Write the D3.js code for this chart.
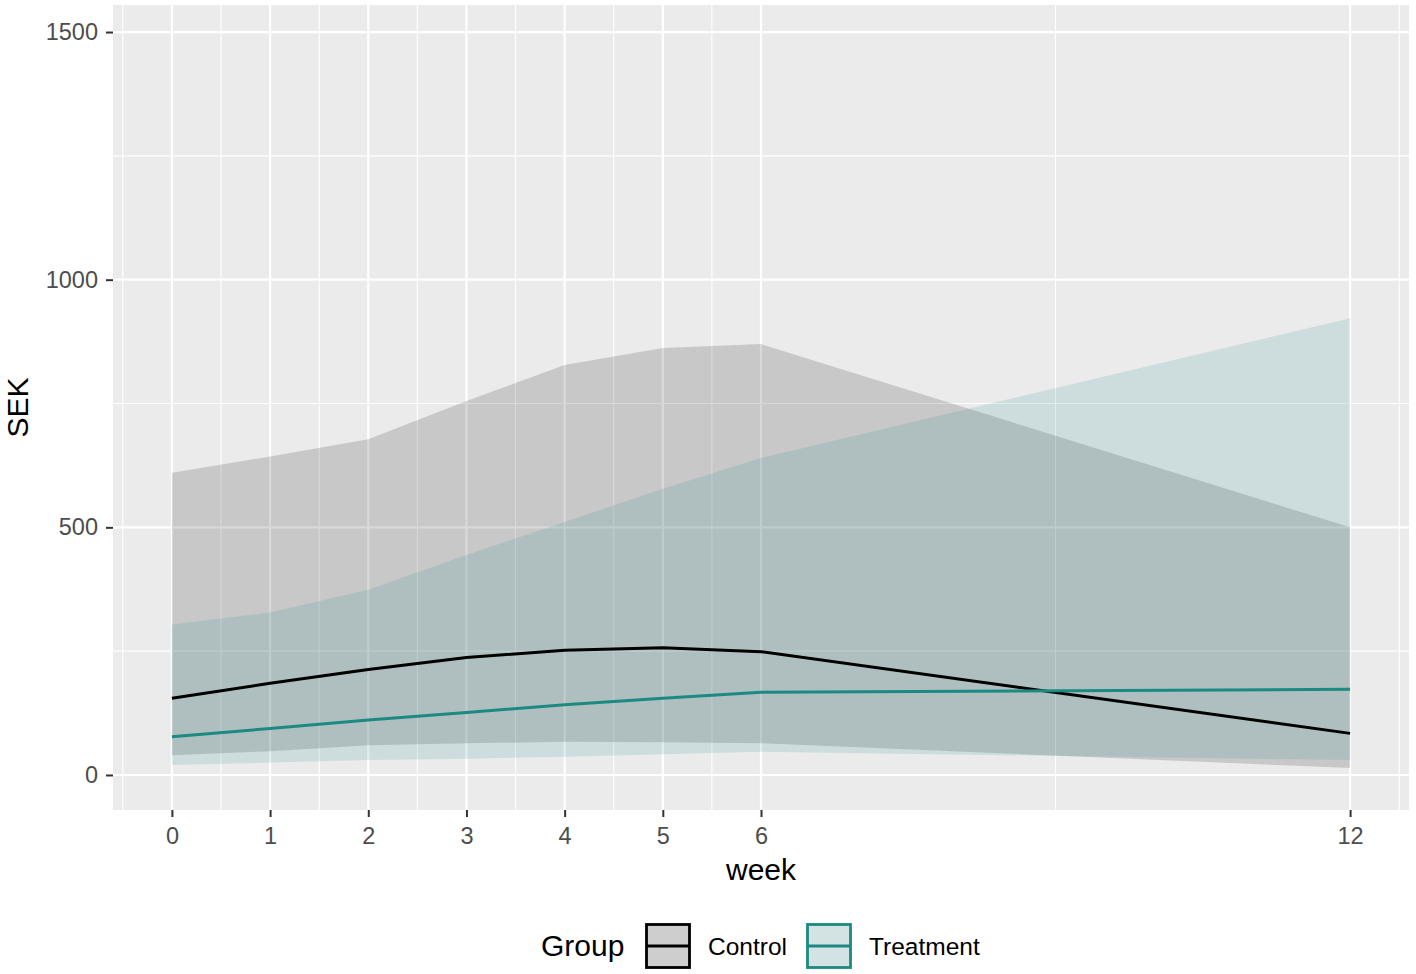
<!DOCTYPE html>
<html>
<head>
<meta charset="utf-8">
<script src="https://cdn.jsdelivr.net/npm/d3@7"></script>
<style>
  body { margin: 0; background: #fff; }
  svg { display: block; font-family: "Liberation Sans", Arial, Helvetica, sans-serif; }
</style>
</head>
<body>
<svg id="chart" width="1416" height="974"></svg>
<script>
const weeks = [0, 1, 2, 3, 4, 5, 6, 12];

const controlMean  = [155, 185, 213, 237, 252, 257, 249, 84];
const controlLower = [40, 48, 60, 64, 67, 66, 64, 14];
const controlUpper = [610, 643, 678, 755, 828, 862, 870, 500];

const treatmentMean  = [77, 94, 111, 126, 142, 155, 167, 173];
const treatmentLower = [20, 25, 30, 33, 37, 42, 47, 30];
const treatmentUpper = [304, 328, 374, 444, 511, 578, 640, 922];

const groups = ['Control', 'Treatment'];
const xTicks = [0, 1, 2, 3, 4, 5, 6, 12];
const xMinor = [-0.5, 0.5, 1.5, 2.5, 3.5, 4.5, 5.5, 9, 12.5];
const yTicks = [0, 500, 1000, 1500];
const yMinor = [250, 750, 1250];

const lineColors = { Control: '#000000', Treatment: '#1C8A82' };
const fillColors = { Control: '#000000', Treatment: '#21908C' };
const fillAlpha = 0.15;

const panel = { left: 113, right: 1409, top: 5, bottom: 810 };

const svg = d3.select('#chart');

const x = d3.scaleLinear()
    .domain([-0.6, 12.6])
    .range([panel.left, panel.right]);
const y = d3.scaleLinear()
    .domain([-70.7, 1554.6])
    .range([panel.bottom, panel.top]);

// panel background + grid
svg.append('rect')
    .attr('x', panel.left)
    .attr('y', panel.top)
    .attr('width', panel.right - panel.left)
    .attr('height', panel.bottom - panel.top)
    .attr('fill', '#EBEBEB');

const grid = svg.append('g').attr('class', 'grid');
grid.selectAll('.ymin').data(yMinor).enter().append('line')
    .attr('x1', panel.left).attr('x2', panel.right)
    .attr('y1', d => y(d)).attr('y2', d => y(d))
    .attr('stroke', '#fff').attr('stroke-width', 1.1);
grid.selectAll('.xmin').data(xMinor).enter().append('line')
    .attr('y1', panel.top).attr('y2', panel.bottom)
    .attr('x1', d => x(d)).attr('x2', d => x(d))
    .attr('stroke', '#fff').attr('stroke-width', 1.1);
grid.selectAll('.ymaj').data(yTicks).enter().append('line')
    .attr('x1', panel.left).attr('x2', panel.right)
    .attr('y1', d => y(d)).attr('y2', d => y(d))
    .attr('stroke', '#fff').attr('stroke-width', 2.2);
grid.selectAll('.xmaj').data(xTicks).enter().append('line')
    .attr('y1', panel.top).attr('y2', panel.bottom)
    .attr('x1', d => x(d)).attr('x2', d => x(d))
    .attr('stroke', '#fff').attr('stroke-width', 2.2);

const series = [
    { name: 'Control', mean: controlMean, lo: controlLower, hi: controlUpper },
    { name: 'Treatment', mean: treatmentMean, lo: treatmentLower, hi: treatmentUpper }
].map(s => ({
    name: s.name,
    points: weeks.map((w, i) => ({ week: w, mean: s.mean[i], lo: s.lo[i], hi: s.hi[i] }))
}));

const area = d3.area()
    .x(d => x(d.week))
    .y0(d => y(d.lo))
    .y1(d => y(d.hi));
const line = d3.line()
    .x(d => x(d.week))
    .y(d => y(d.mean));

// ribbons
svg.append('g')
    .selectAll('path')
    .data(series)
    .enter()
    .append('path')
    .attr('d', d => area(d.points))
    .attr('fill', d => fillColors[d.name])
    .attr('fill-opacity', fillAlpha);

// lines
svg.append('g')
    .selectAll('path')
    .data(series)
    .enter()
    .append('path')
    .attr('d', d => line(d.points))
    .attr('fill', 'none')
    .attr('stroke', d => lineColors[d.name])
    .attr('stroke-width', 3);

// axes
const xAxis = d3.axisBottom(x).tickValues(xTicks).tickSize(7).tickPadding(10.5);
svg.append('g')
    .attr('class', 'axis x-axis')
    .attr('transform', `translate(0, ${panel.bottom})`)
    .call(xAxis);

const yAxis = d3.axisLeft(y).tickValues(yTicks).tickFormat(d3.format('d')).tickSize(7).tickPadding(8);
svg.append('g')
    .attr('class', 'axis y-axis')
    .attr('transform', `translate(${panel.left}, 0)`)
    .call(yAxis);

svg.selectAll('.axis .domain').remove();
svg.selectAll('.axis .tick line').attr('stroke', '#333333').attr('stroke-width', 2);
svg.selectAll('.axis .tick text')
    .attr('fill', '#4D4D4D')
    .style('font-size', '23.5px')
    .style('font-family', '"Liberation Sans", Arial, sans-serif');

// axis titles
svg.append('text')
    .attr('x', (panel.left + panel.right) / 2)
    .attr('y', 880)
    .attr('text-anchor', 'middle')
    .style('font-size', '30px')
    .attr('fill', '#000')
    .text('week');

svg.append('text')
    .attr('transform', `translate(28, ${(panel.top + panel.bottom) / 2}) rotate(-90)`)
    .attr('text-anchor', 'middle')
    .style('font-size', '30px')
    .attr('fill', '#000')
    .text('SEK');

// legend
const legend = svg.append('g').attr('class', 'legend');
legend.append('text')
    .attr('x', 541)
    .attr('y', 956)
    .style('font-size', '30px')
    .attr('fill', '#000')
    .text('Group');

const keyX = { Control: 645, Treatment: 806 };
const keySize = 46;
const keyTop = 923;

const keys = legend.selectAll('.key')
    .data(groups)
    .enter()
    .append('g')
    .attr('class', 'key')
    .attr('transform', d => `translate(${keyX[d]}, ${keyTop})`);

keys.append('rect')
    .attr('width', keySize).attr('height', keySize)
    .attr('fill', '#F2F2F2');
keys.append('rect')
    .attr('x', 1.5).attr('y', 1.5)
    .attr('width', keySize - 3).attr('height', keySize - 3)
    .attr('fill', d => fillColors[d])
    .attr('fill-opacity', fillAlpha)
    .attr('stroke', d => lineColors[d])
    .attr('stroke-width', 2.8);
keys.append('line')
    .attr('x1', 1.5).attr('x2', keySize - 1.5)
    .attr('y1', keySize / 2).attr('y2', keySize / 2)
    .attr('stroke', d => lineColors[d])
    .attr('stroke-width', 3);
keys.append('text')
    .attr('x', keySize + 17)
    .attr('y', 32)
    .style('font-size', '24.5px')
    .attr('fill', '#000')
    .text(d => d);
</script>
</body>
</html>
